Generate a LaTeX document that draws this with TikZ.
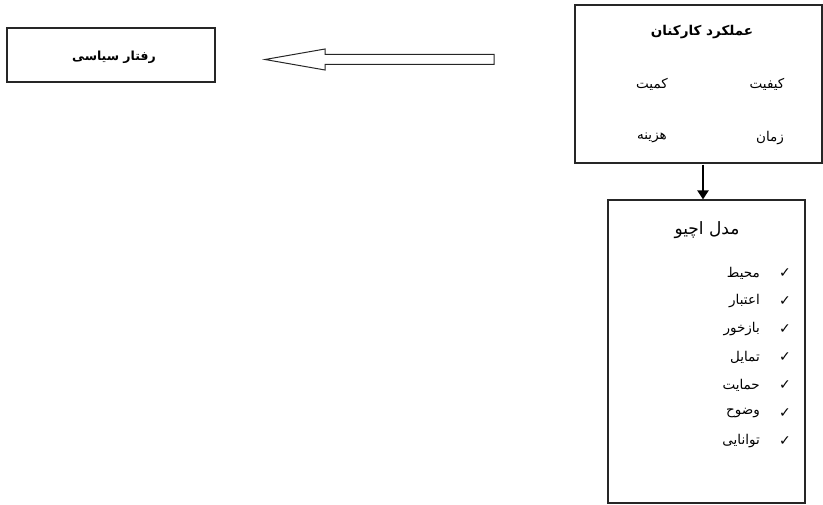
\documentclass[tikz,border=0pt]{standalone}
\usepackage{fontspec}
\TeXXeTstate=1
\newfontfamily\arabicfont[Script=Arabic]{DejaVu Sans}
\newfontfamily\symfont{DejaVu Sans}
\usetikzlibrary{arrows.meta}
\tikzset{
  boxline/.style={draw=black!85, line width=1.2pt},
  fa/.style={font=\arabicfont\fontsize{13.5}{15}\selectfont, inner sep=0pt},
  fab/.style={font=\arabicfont\bfseries\fontsize{13.5}{15}\selectfont, inner sep=0pt},
  tick/.style={font=\symfont\fontsize{14}{16}\selectfont, inner sep=0pt},
}
\begin{document}
\begin{tikzpicture}[x=1pt,y=-1pt]
\useasboundingbox (0,0) rectangle (823,505);
% left box
\node[boxline, minimum width=208pt, minimum height=54pt, inner sep=0pt] (pol) at (111,55) {};
\node[fab, font=\arabicfont\bfseries\fontsize{12.5}{14}\selectfont] (polt) at (114,57) {\beginR رفتار سیاسی\endR};
% block arrow
\coordinate (tip) at (265,59.5);
\draw[boxline, line width=1pt, line join=miter] (tip) -- (325,49) -- (325,54.5) -- (494,54.5) -- (494,64.5) -- (325,64.5) -- (325,70) -- cycle;
% performance box
\node[boxline, minimum width=247pt, minimum height=158pt, inner sep=0pt] (perf) at (698.5,84) {};
\node[fab] (perft) at (702,32) {\beginR عملکرد کارکنان\endR};
\node[fa] (q1) at (767,84) {\beginR کیفیت\endR};
\node[fa] (q2) at (652,84) {\beginR کمیت\endR};
\node[fa] (q3) at (770,138) {\beginR زمان\endR};
\node[fa] (q4) at (652,138) {\beginR هزینه\endR};
% model box
\node[boxline, minimum width=197pt, minimum height=303pt, inner sep=0pt] (model) at (706.5,351.5) {};
\node[fa, font=\arabicfont\fontsize{17}{19}\selectfont] (mt) at (707,230) {\beginR مدل اچیو\endR};
% down arrow
\draw[line width=2.8pt, -{Triangle[length=9pt,width=11pt]}] (perf.south -| mt) ++(-4,1) coordinate (as) -- (as |- model.north);
% items
\foreach \t [count=\i] in {محیط,اعتبار,بازخور,تمایل,حمایت,وضوح,توانایی}{
  \node[tick] (c\i) at (785,{245+28*\i}) {✓};
  \node[fa, anchor=east] (t\i) at (760,{245+28*\i}) {\beginR\t\endR};
}
\end{tikzpicture}
\end{document}
